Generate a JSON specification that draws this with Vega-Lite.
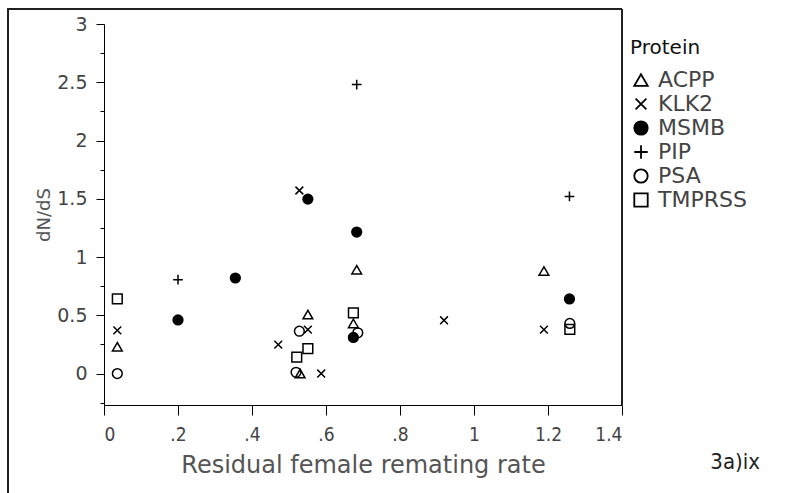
{
  "$schema": "https://vega.github.io/schema/vega-lite/v6.json",
  "autosize": {"type": "none"},
  "width": 518,
  "height": 381,
  "padding": {"left": 104, "top": 24, "right": 171, "bottom": 88},
  "background": "white",
  "config": {
    "view": {"stroke": null},
    "font": "DejaVu Sans"
  },
  "title": {
    "text": "3a)ix",
    "orient": "bottom",
    "anchor": "end",
    "frame": "group",
    "font": "DejaVu Sans Condensed",
    "fontSize": 22,
    "fontWeight": "normal",
    "color": "#222",
    "offset": 0,
    "dx": 138,
    "dy": -44
  },
  "data": {
    "values": [
      {"Protein": "ACPP", "rate": 0.036, "dnds": 0.23},
      {"Protein": "ACPP", "rate": 0.551, "dnds": 0.506},
      {"Protein": "ACPP", "rate": 0.683, "dnds": 0.891},
      {"Protein": "ACPP", "rate": 0.674, "dnds": 0.43},
      {"Protein": "ACPP", "rate": 1.189, "dnds": 0.88},
      {"Protein": "ACPP", "rate": 0.53, "dnds": 0.0},
      {"Protein": "KLK2", "rate": 0.036, "dnds": 0.37},
      {"Protein": "KLK2", "rate": 0.528, "dnds": 1.571},
      {"Protein": "KLK2", "rate": 0.551, "dnds": 0.377},
      {"Protein": "KLK2", "rate": 0.471, "dnds": 0.248},
      {"Protein": "KLK2", "rate": 0.587, "dnds": 0.0},
      {"Protein": "KLK2", "rate": 0.919, "dnds": 0.457},
      {"Protein": "KLK2", "rate": 1.189, "dnds": 0.377},
      {"Protein": "MSMB", "rate": 0.2, "dnds": 0.46},
      {"Protein": "MSMB", "rate": 0.355, "dnds": 0.82},
      {"Protein": "MSMB", "rate": 0.551, "dnds": 1.497},
      {"Protein": "MSMB", "rate": 0.683, "dnds": 1.214},
      {"Protein": "MSMB", "rate": 0.674, "dnds": 0.31},
      {"Protein": "MSMB", "rate": 1.258, "dnds": 0.64},
      {"Protein": "PIP", "rate": 0.2, "dnds": 0.805},
      {"Protein": "PIP", "rate": 0.683, "dnds": 2.48},
      {"Protein": "PIP", "rate": 1.258, "dnds": 1.52},
      {"Protein": "PSA", "rate": 0.036, "dnds": 0.0},
      {"Protein": "PSA", "rate": 0.528, "dnds": 0.363},
      {"Protein": "PSA", "rate": 0.519, "dnds": 0.011},
      {"Protein": "PSA", "rate": 0.686, "dnds": 0.35},
      {"Protein": "PSA", "rate": 1.259, "dnds": 0.43},
      {"Protein": "TMPRSS", "rate": 0.036, "dnds": 0.64},
      {"Protein": "TMPRSS", "rate": 0.551, "dnds": 0.214},
      {"Protein": "TMPRSS", "rate": 0.521, "dnds": 0.14},
      {"Protein": "TMPRSS", "rate": 0.674, "dnds": 0.52},
      {"Protein": "TMPRSS", "rate": 1.259, "dnds": 0.38}
    ]
  },
  "encoding": {
    "x": {
      "field": "rate",
      "type": "quantitative",
      "scale": {"domain": [0, 1.4], "nice": false, "zero": false},
      "axis": {
        "title": "Residual female remating rate",
        "values": [0, 0.2, 0.4, 0.6, 0.8, 1, 1.2, 1.4],
        "labelExpr": "datum.value == 0 ? '0' : datum.value < 1 ? substring(format(datum.value, '.1f'), 1) : datum.value == 1 ? '1' : format(datum.value, '.1f')",
        "grid": false,
        "domainColor": "black",
        "tickColor": "black",
        "tickSize": 10,
        "labelPadding": 10,
        "labelFontSize": 19,
        "labelColor": "#444",
        "labelFont": "DejaVu Sans Condensed",
        "titleFont": "DejaVu Sans",
        "titleFontSize": 24,
        "titleFontWeight": "normal",
        "titleColor": "#555",
        "titlePadding": 9
      }
    },
    "y": {
      "field": "dnds",
      "type": "quantitative",
      "scale": {"domain": [-0.27, 3], "nice": false, "zero": false},
      "axis": {
        "title": "dN/dS",
        "values": [-0.25, 0, 0.25, 0.5, 0.75, 1, 1.25, 1.5, 1.75, 2, 2.25, 2.5, 2.75, 3],
        "labelExpr": "datum.value >= 0 && datum.value % 0.5 == 0 ? format(datum.value, '~g') : ''",
        "tickSize": {"condition": {"test": "datum.value % 0.5 != 0", "value": 4}, "value": 8},
        "grid": false,
        "domainColor": "black",
        "tickColor": "black",
        "labelPadding": 9,
        "labelFontSize": 19,
        "labelColor": "#444",
        "titleFont": "DejaVu Sans",
        "titleFontSize": 18,
        "titleFontWeight": "normal",
        "titleColor": "#555",
        "titlePadding": 3
      }
    }
  },
  "layer": [
    {
      "mark": {"type": "rule", "clip": false, "color": "#222", "strokeWidth": 1.2},
      "encoding": {"x": {"datum": -0.26}, "x2": {"datum": 1.4}, "y": {"datum": 3.125}}
    },
    {
      "mark": {"type": "rule", "clip": false, "color": "#222", "strokeWidth": 1.2},
      "encoding": {"x": {"datum": -0.26}, "y": {"datum": 3.125}, "y2": {"datum": -1.05}}
    },
    {
      "mark": {"type": "rule", "clip": false, "color": "#222", "strokeWidth": 1.2},
      "encoding": {"x": {"datum": 1.4}, "y": {"datum": 3.125}, "y2": {"datum": -0.27}}
    },
    {
      "mark": {"type": "point", "filled": false, "strokeWidth": 1.5, "size": 95, "opacity": 1},
      "encoding": {
        "shape": {
          "field": "Protein",
          "type": "nominal",
          "scale": {
            "domain": ["ACPP", "KLK2", "MSMB", "PIP", "PSA", "TMPRSS"],
            "range": ["triangle-up", "M-0.8,-0.8L0.8,0.8M-0.8,0.8L0.8,-0.8", "circle", "M-1,0L1,0M0,-1L0,1", "circle", "square"]
          },
          "legend": {
            "orient": "none",
            "legendX": 526,
            "legendY": 14,
            "title": "Protein",
            "titleFont": "DejaVu Sans",
            "titleFontSize": 20,
            "titleFontWeight": "normal",
            "titleColor": "#111",
            "titlePadding": 11,
            "labelFont": "DejaVu Sans",
            "labelFontSize": 22,
            "labelColor": "#444",
            "symbolSize": 180,
            "symbolStrokeWidth": 1.8,
            "rowPadding": 2,
            "labelOffset": 6
          }
        },
        "fill": {
          "field": "Protein",
          "type": "nominal",
          "scale": {
            "domain": ["ACPP", "KLK2", "MSMB", "PIP", "PSA", "TMPRSS"],
            "range": ["transparent", "transparent", "black", "transparent", "transparent", "transparent"]
          }
        },
        "stroke": {
          "field": "Protein",
          "type": "nominal",
          "scale": {
            "domain": ["ACPP", "KLK2", "MSMB", "PIP", "PSA", "TMPRSS"],
            "range": ["black", "black", "black", "black", "black", "black"]
          }
        }
      }
    }
  ]
}
